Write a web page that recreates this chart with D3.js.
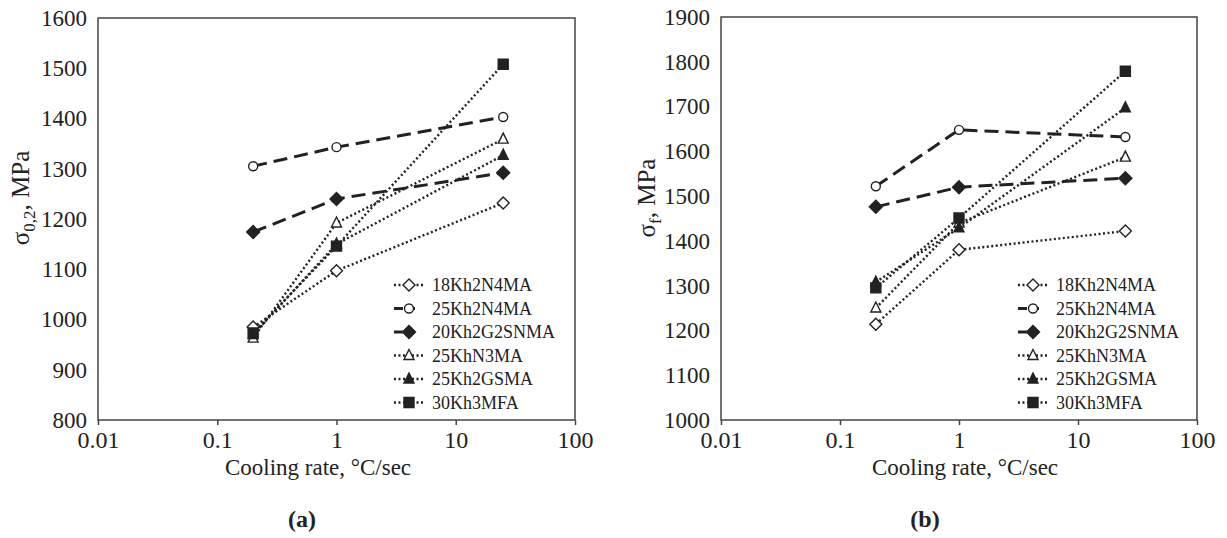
<!DOCTYPE html>
<html>
<head>
<meta charset="utf-8">
<script src="https://cdn.jsdelivr.net/npm/d3@7"></script>
<style>
  body { margin: 0; background: #fff; }
  svg text { font-family: 'Liberation Serif', serif; fill: #222; }
</style>
</head>
<body>
<svg id="chart" width="1227" height="538"></svg>
<script>
// ----- Data -----
const rates = [0.2, 1, 25] // cooling rate, °C/sec
const steels = ['18Kh2N4MA', '25Kh2N4MA', '20Kh2G2SNMA', '25KhN3MA', '25Kh2GSMA', '30Kh3MFA']
const markers = ['diamondOpen', 'circleOpen', 'diamond', 'triangleOpen', 'triangle', 'square']
const lineKinds = ['dot', 'dash', 'dash', 'dot', 'dot', 'dot']

// (a) yield strength sigma 0.2, MPa (same order as steels)
const yieldValues = [
  [985, 1097, 1232],
  [1305, 1343, 1403],
  [1174, 1240, 1292],
  [963, 1192, 1359],
  [970, 1150, 1327],
  [973, 1146, 1508]
]
// (b) ultimate strength sigma f, MPa
const ultimateValues = [
  [1214, 1380, 1422],
  [1522, 1648, 1632],
  [1476, 1520, 1540],
  [1250, 1440, 1587],
  [1308, 1429, 1697],
  [1295, 1451, 1779]
]

const xTicks = [0.01, 0.1, 1, 10, 100]
const yTicksA = [800, 900, 1000, 1100, 1200, 1300, 1400, 1500, 1600]
const yTicksB = [1000, 1100, 1200, 1300, 1400, 1500, 1600, 1700, 1800, 1900]

let svg = d3.select('#chart')
let ink = '#222'
let serif = "'Liberation Serif', serif"

function markerPath(type) {
  let p = d3.path()
  if (type === 'diamondOpen' || type === 'diamond') {
    let r = type === 'diamond' ? 6.5 : 6
    p.moveTo(0, -r); p.lineTo(r, 0); p.lineTo(0, r); p.lineTo(-r, 0); p.closePath()
  } else if (type === 'circleOpen') {
    p.arc(0, 0, 4.5, 0, 2 * Math.PI)
  } else if (type === 'triangleOpen' || type === 'triangle') {
    p.moveTo(0, -6); p.lineTo(5, 4); p.lineTo(-5, 4); p.closePath()
  } else {
    p.rect(-5, -5, 10, 10)
  }
  return p.toString()
}

function styleLine(sel, kind) {
  if (kind === 'dash') {
    sel.attr('stroke-width', 3).attr('stroke-dasharray', '14,7')
  } else {
    sel.attr('stroke-width', 2.4).attr('stroke-dasharray', '2,2.5')
  }
}

function drawPanel(opts) {
  let g = svg.append('g')
  let x = d3.scaleLog().domain([0.01, 100]).range([opts.left, opts.right])
  let y = d3.scaleLinear().domain(opts.yDomain).range([420, opts.top])

  // frame
  g.append('rect')
   .attr('x', opts.left).attr('y', opts.top)
   .attr('width', opts.right - opts.left).attr('height', 420 - opts.top)
   .attr('fill', 'none').attr('stroke', '#444').attr('stroke-width', 1.5)

  // x axis
  let xAxis = g.append('g').attr('transform', 'translate(0,420)')
               .call(d3.axisBottom(x).tickValues(xTicks).tickSize(5).tickPadding(6)
                       .tickFormat(d => d >= 1 ? d3.format('d')(d) : String(d)))
  xAxis.attr('font-family', null)
  xAxis.select('.domain').remove()
  xAxis.selectAll('line').attr('stroke', '#444').attr('stroke-width', 1.5)
  xAxis.selectAll('text').style('font-size', '24px').style('font-family', serif).attr('fill', ink)

  // y axis
  let yAxis = g.append('g').attr('transform', 'translate(' + opts.left + ',0)')
               .call(d3.axisLeft(y).tickValues(opts.yTicks).tickSize(0).tickPadding(11)
                       .tickFormat(d3.format('d')))
  yAxis.attr('font-family', null)
  yAxis.select('.domain').remove()
  yAxis.selectAll('text').style('font-size', '23px').style('font-family', serif).attr('fill', ink)

  // series lines
  let line = d3.line().x((d, i) => x(rates[i])).y(d => y(d))
  opts.values.forEach(function (vals, s) {
    g.append('path')
     .attr('d', line(vals))
     .attr('fill', 'none')
     .attr('stroke', ink)
     .call(styleLine, lineKinds[s])
  })

  // markers
  opts.values.forEach(function (vals, s) {
    let open = markers[s].indexOf('Open') > 0
    g.selectAll(null)
     .data(vals)
     .enter()
     .append('path')
     .attr('d', markerPath(markers[s]))
     .attr('transform', (d, i) => 'translate(' + x(rates[i]) + ',' + y(d) + ')')
     .attr('fill', open ? '#fff' : ink)
     .attr('stroke', ink)
     .attr('stroke-width', 1.4)
  })

  // legend
  let lg = g.append('g')
  steels.forEach(function (name, s) {
    let ly = 285 + s * 23.5
    lg.append('line')
      .attr('x1', opts.legendX).attr('x2', opts.legendX + 30)
      .attr('y1', ly).attr('y2', ly)
      .attr('stroke', ink)
      .call(styleLine, lineKinds[s])
      .attr('stroke-dasharray', lineKinds[s] === 'dash' ? '9,3,9' : '2,2.5')
    let open = markers[s].indexOf('Open') > 0
    lg.append('path')
      .attr('d', markerPath(markers[s]))
      .attr('transform', 'translate(' + (opts.legendX + 15) + ',' + ly + ')')
      .attr('fill', open ? '#fff' : ink)
      .attr('stroke', ink)
      .attr('stroke-width', 1.4)
    lg.append('text')
      .attr('x', opts.legendX + 38).attr('y', ly + 6)
      .style('font-size', '18px')
      .text(name)
  })

  // axis titles
  g.append('text')
   .attr('x', opts.xLabelX).attr('y', 475)
   .attr('text-anchor', 'middle')
   .style('font-size', '23px')
   .text('Cooling rate, °C/sec')

  let yl = g.append('text')
   .attr('transform', 'translate(' + opts.yLabelX + ',198) rotate(-90)')
   .attr('text-anchor', 'middle')
   .style('font-size', '25px')
  yl.append('tspan').text('σ')
  yl.append('tspan').style('font-size', '17px').attr('dy', 6).text(opts.sub)
  yl.append('tspan').attr('dy', -6).text(', MPa')

  g.append('text')
   .attr('x', opts.tagX).attr('y', 527)
   .attr('text-anchor', 'middle')
   .style('font-size', '24px')
   .style('font-weight', 'bold')
   .text(opts.tag)
}

drawPanel({left: 98, right: 575, top: 18, yDomain: [800, 1600], yTicks: yTicksA,
           values: yieldValues, legendX: 394, xLabelX: 318, yLabelX: 29, sub: '0,2',
           tag: '(a)', tagX: 302})
drawPanel({left: 721, right: 1197, top: 17, yDomain: [1000, 1900], yTicks: yTicksB,
           values: ultimateValues, legendX: 1018, xLabelX: 965, yLabelX: 655, sub: 'f',
           tag: '(b)', tagX: 925})
</script>
</body>
</html>
